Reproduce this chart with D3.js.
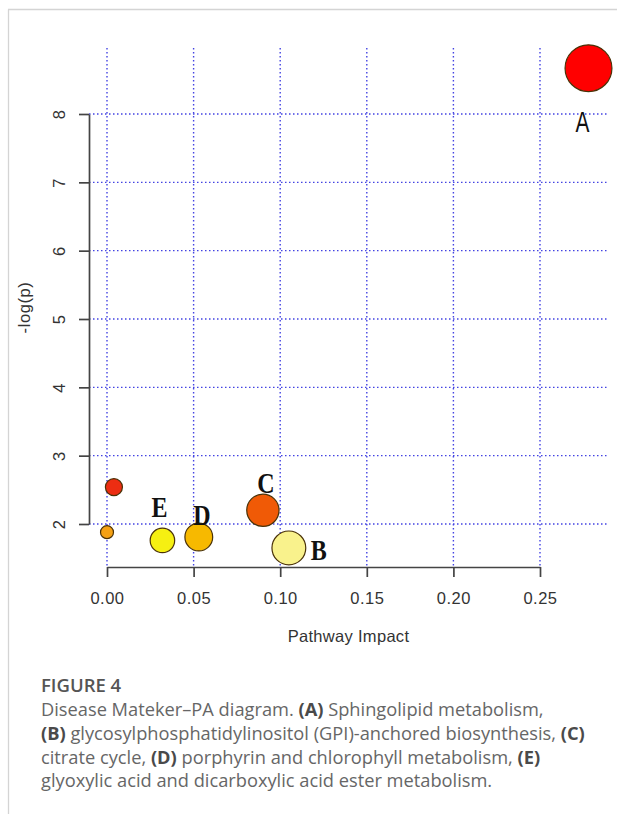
<!DOCTYPE html>
<html><head><meta charset="utf-8">
<script src="https://cdn.jsdelivr.net/npm/d3@7/dist/d3.min.js"></script>
<style>html,body{margin:0;padding:0;background:#fff;} svg{display:block;}</style>
</head><body>
<svg id="chart" width="617" height="814"></svg>
<script>
// ---- data ----
const labels = ["A", "B", "C", "D", "E", "", ""];
const impact = [0.278, 0.105, 0.090, 0.053, 0.032, 0.004, 0.000];
const logP   = [8.67, 1.65, 2.20, 1.81, 1.76, 2.54, 1.88];
const xTicks = [0.00, 0.05, 0.10, 0.15, 0.20, 0.25];
const yTicks = [2, 3, 4, 5, 6, 7, 8];
const xTitle = "Pathway Impact";
const yTitle = "-log(p)";
const figTitle = "FIGURE 4";
const captionLines = [
  [["Disease Mateker\u2013PA diagram. ", 0], ["(A)", 1], [" Sphingolipid metabolism,", 0]],
  [["(B)", 1], [" glycosylphosphatidylinositol (GPI)-anchored biosynthesis, ", 0], ["(C)", 1]],
  [["citrate cycle, ", 0], ["(D)", 1], [" porphyrin and chlorophyll metabolism, ", 0], ["(E)", 1]],
  [["glyoxylic acid and dicarboxylic acid ester metabolism.", 0]]
];
// heat palette, low -> high -log(p)
const heatPalette = ["#f9f28c", "#f6f012", "#f7b900", "#f5a114", "#f05a06", "#ec2d12", "#ff0000"];

// ---- layout ----
const plot = {left: 89, right: 608, top: 48, bottom: 567};
const svg = d3.select("#chart");

svg.append("line").attr("x1", 8).attr("x2", 617).attr("y1", 9.5).attr("y2", 9.5)
  .attr("stroke", "#d4d4d4").attr("stroke-width", 1.3);
svg.append("line").attr("x1", 8.5).attr("x2", 8.5).attr("y1", 9.5).attr("y2", 814)
  .attr("stroke", "#d4d4d4").attr("stroke-width", 1.3);

const x = d3.scaleLinear().domain([0, 0.25]).range([107, 540]);
const y = d3.scaleLinear().domain([2, 8]).range([524, 114]);
const r = d3.scalePow().exponent(0.5).domain([0, 0.28]).range([6.5, 23.5]);

const order = logP.map((v, i) => i).sort((a, b) => logP[a] - logP[b]);
const colorOf = {};
order.forEach((idx, k) => colorOf[idx] = heatPalette[k]);

// grid
const grid = svg.append("g").attr("stroke", "#2f2fe0").attr("stroke-width", 1.4)
  .attr("stroke-dasharray", "1.5,2.5").attr("opacity", 0.9);
grid.selectAll("line.v").data(xTicks).join("line").attr("class", "v")
  .attr("x1", d => x(d)).attr("x2", d => x(d)).attr("y1", plot.top).attr("y2", plot.bottom);
grid.selectAll("line.h").data(yTicks).join("line").attr("class", "h")
  .attr("y1", d => y(d)).attr("y2", d => y(d)).attr("x1", plot.left).attr("x2", plot.right);

// axes
const xAxis = svg.append("g").attr("transform", `translate(0,${plot.bottom})`)
  .call(d3.axisBottom(x).tickValues(xTicks).tickFormat(d3.format(".2f")).tickSize(10).tickSizeOuter(0));
const yAxis = svg.append("g").attr("transform", `translate(${plot.left},0)`)
  .call(d3.axisLeft(y).tickValues(yTicks).tickFormat(d3.format("d")).tickSize(10).tickSizeOuter(0));
[xAxis, yAxis].forEach(g => {
  g.selectAll("path.domain, .tick line").attr("stroke", "#444").attr("stroke-width", 1.7);
  g.selectAll("text").attr("fill", "#333").attr("font-family", "Liberation Sans, Arial, sans-serif")
    .attr("font-size", 16.5).attr("letter-spacing", 0.5);
});
xAxis.selectAll(".tick text").attr("y", 37).attr("dy", 0);
yAxis.selectAll(".tick text").attr("transform", "rotate(-90)").attr("x", 0).attr("y", -24.5)
  .attr("dy", 0).attr("text-anchor", "middle");

// axis titles
svg.append("text").attr("x", (plot.left + plot.right) / 2).attr("y", 642)
  .attr("text-anchor", "middle").attr("font-family", "Liberation Sans, Arial, sans-serif")
  .attr("font-size", 16.5).attr("letter-spacing", 0.3).attr("fill", "#333").text(xTitle);
svg.append("text").attr("transform", `translate(29.5,${(plot.top + plot.bottom) / 2}) rotate(-90)`)
  .attr("text-anchor", "middle").attr("font-family", "Liberation Sans, Arial, sans-serif")
  .attr("font-size", 16.5).attr("letter-spacing", 0.6).attr("fill", "#333").text(yTitle);

// bubbles
const pts = impact.map((d, i) => ({i, impact: d, logP: logP[i], label: labels[i]}));
svg.append("g").selectAll("circle").data(pts).join("circle")
  .attr("cx", d => x(d.impact)).attr("cy", d => y(d.logP)).attr("r", d => r(d.impact))
  .attr("fill", d => colorOf[d.i]).attr("stroke", "#4a3208").attr("stroke-width", 1.2);

// point labels (offsets relative to each bubble)
const labelOffset = {A: [-6, 53], B: [30, 2], C: [3, -27], D: [3, -22], E: [-3, -33]};
svg.append("g").selectAll("text").data(pts.filter(d => d.label)).join("text")
  .attr("transform", d => {
    const o = labelOffset[d.label];
    const cx = x(d.impact) + o[0];
    const isA = d.label === "A";
    const cy = y(d.logP) + o[1] + (isA ? 10.4 : 9.8);
    return `translate(${cx},${cy}) scale(${isA ? 0.72 : 0.8},1)`;
  })
  .attr("text-anchor", "middle")
  .attr("font-family", d => d.label === "A" ? "Liberation Sans, Arial, sans-serif" : "Liberation Serif, Times New Roman, serif")
  .attr("font-weight", d => d.label === "A" ? "normal" : "bold")
  .attr("font-size", d => d.label === "A" ? 29 : 30)
  .attr("fill", "#111")
  .text(d => d.label);

// caption
svg.append("text").attr("x", 41).attr("y", 692).attr("font-family", "'Open Sans', Lato, sans-serif")
  .attr("font-size", 18.5).attr("font-weight", 600).attr("fill", "#555").text(figTitle);
const cap = svg.append("g").attr("font-family", "'Open Sans', Lato, sans-serif").attr("font-size", 16)
  .attr("fill", "#666");
const capTexts = captionLines.map((line, li) => {
  const t = cap.append("text").attr("x", 41).attr("y", 716 + li * 23.8);
  line.forEach(([s, b]) => {
    t.append("tspan").attr("font-weight", b ? 700 : 400).attr("fill", b ? "#4a4a4a" : "#666").text(s);
  });
  return t;
});
// fit caption size so that the longest line spans the measured width
const w2 = capTexts[1].node().getComputedTextLength();
const fs = 16 * 544 / w2;
cap.attr("font-size", fs);
</script>
</body></html>
